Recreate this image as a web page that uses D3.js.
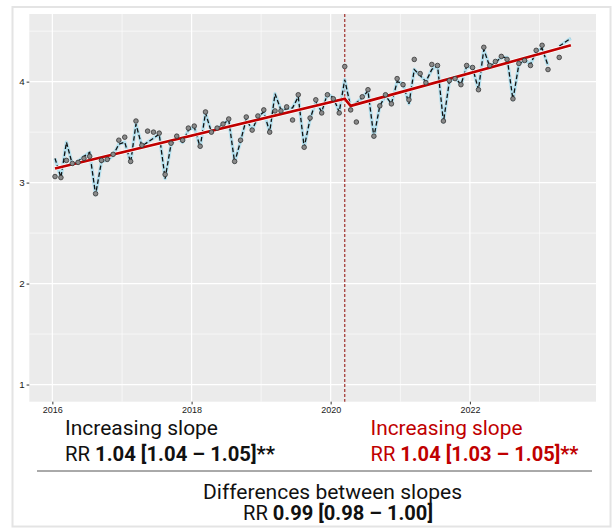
<!DOCTYPE html>
<html>
<head>
<meta charset="utf-8">
<script src="https://cdn.jsdelivr.net/npm/d3@7"></script>
<style>
  body { margin: 0; background: #fff; }
  svg { display: block; }
</style>
</head>
<body>
<svg id="chart"></svg>
<script>
// monthly observed values, Jan 2016 .. Jun 2023 (null = no point)
const observed = [
  3.06, 3.05, 3.22, 3.19, 3.20, 3.24, 3.26, 2.89, 3.22, 3.23, 3.28, 3.42,
  3.45, 3.21, 3.61, 3.37, 3.51, 3.50, 3.49, 3.08, 3.39, 3.46, 3.42, 3.54,
  3.56, 3.36, 3.70, 3.50, 3.54, 3.58, 3.63, 3.21, 3.42, 3.65, 3.52, 3.66,
  3.72, 3.50, 3.71, 3.71, 3.75, 3.62, 3.87, 3.35, 3.64, 3.82, 3.69, 3.87,
  3.83, 3.69, 4.15, 3.72, 3.60, 3.85, 3.92, 3.46, 3.76, 3.87, 3.78, 4.03,
  3.97, 3.82, 4.22, 4.08, 3.99, 4.17, 4.16, 3.61, 4.01, 4.03, 3.97, 4.16,
  4.14, 3.92, 4.34, 4.16, 4.20, 4.25, 4.22, 3.83, 4.18, 4.21, 4.16, 4.31,
  4.36, 4.12, null, 4.24, null, null
]

// model fit including seasonality (dashed line + light blue band)
const fitted = [
  3.24, 3.05, 3.40, 3.18, 3.21, 3.26, 3.30, 2.88, 3.21, 3.22, 3.27, 3.38,
  3.40, 3.20, 3.58, 3.36, 3.40, 3.44, 3.48, 3.04, 3.38, 3.44, 3.40, 3.52,
  3.55, 3.35, 3.69, 3.50, 3.53, 3.58, 3.62, 3.20, 3.41, 3.63, 3.52, 3.65,
  3.70, 3.50, 3.88, 3.72, 3.73, 3.74, 3.85, 3.35, 3.63, 3.80, 3.70, 3.88,
  3.84, 3.70, 4.02, 3.75, 3.79, 3.84, 3.91, 3.45, 3.76, 3.86, 3.78, 4.00,
  3.98, 3.78, 4.12, 4.06, 4.00, 4.12, 4.16, 3.60, 4.00, 4.04, 3.97, 4.15,
  4.14, 3.92, 4.32, 4.15, 4.19, 4.24, 4.24, 3.82, 4.17, 4.22, 4.17, 4.30,
  4.33, 4.16, null, 4.35, 4.39, 4.43
]

// segmented trend: [first month, last month] values before and after the break
const trendPre = [3.14, 3.83]
const trendPost = [3.76, 4.36]

const yTicks = [1, 2, 3, 4]
const yMinor = [1.5, 2.5, 3.5, 4.5]
const xMajorYears = [2016, 2018, 2020, 2022]
const xMinorYears = [2017, 2019, 2021, 2023]

const months = d3.timeMonth
  .range(new Date(2016, 0, 1), new Date(2023, 6, 1))
  .map(d => new Date(d.getFullYear(), d.getMonth(), 15))
const breakIndex = 50
const interventionDate = months[breakIndex]

const W = 613, H = 528
const panel = { left: 29.3, right: 596, top: 14, bottom: 401.7 }

const svg = d3.select("#chart").attr("width", W).attr("height", H)

svg.append("rect").attr("width", W).attr("height", H).attr("fill", "#fff")
svg.append("rect")
  .attr("x", 12.5).attr("y", 7).attr("width", 598).attr("height", 519.5)
  .attr("fill", "none").attr("stroke", "#e4e4e4").attr("stroke-width", 2)

const x = d3.scaleTime()
  .domain([new Date(2015, 8, 2), new Date(2023, 9, 25)])
  .range([panel.left, panel.right])
const y = d3.scaleLinear()
  .domain([0.83, 4.67])
  .range([panel.bottom, panel.top])

// panel background + grid
svg.append("rect")
  .attr("x", panel.left).attr("y", panel.top)
  .attr("width", panel.right - panel.left).attr("height", panel.bottom - panel.top)
  .attr("fill", "#ebebeb")

const grid = svg.append("g").attr("stroke", "#fff")
grid.selectAll(".ymin").data(yMinor).join("line")
  .attr("x1", panel.left).attr("x2", panel.right)
  .attr("y1", d => y(d)).attr("y2", d => y(d)).attr("stroke-width", 0.6)
grid.selectAll(".xmin").data(xMinorYears).join("line")
  .attr("y1", panel.top).attr("y2", panel.bottom)
  .attr("x1", d => x(new Date(d, 0, 1))).attr("x2", d => x(new Date(d, 0, 1)))
  .attr("stroke-width", 0.6)
grid.selectAll(".ymaj").data(yTicks).join("line")
  .attr("x1", panel.left).attr("x2", panel.right)
  .attr("y1", d => y(d)).attr("y2", d => y(d)).attr("stroke-width", 1.2)
grid.selectAll(".xmaj").data(xMajorYears).join("line")
  .attr("y1", panel.top).attr("y2", panel.bottom)
  .attr("x1", d => x(new Date(d, 0, 1))).attr("x2", d => x(new Date(d, 0, 1)))
  .attr("stroke-width", 1.2)

// axes
const yAxis = svg.append("g")
  .attr("transform", `translate(${panel.left},0)`)
  .call(d3.axisLeft(y).tickValues(yTicks).tickSize(2.7).tickPadding(2).tickFormat(d3.format("d")))
yAxis.select(".domain").remove()

const xAxis = svg.append("g")
  .attr("transform", `translate(0,${panel.bottom})`)
  .call(d3.axisBottom(x).tickValues(xMajorYears.map(d => new Date(d, 0, 1)))
    .tickSize(2.7).tickPadding(2.5).tickFormat(d3.timeFormat("%Y")))
xAxis.select(".domain").remove()

svg.selectAll(".tick line").attr("stroke", "#333")
yAxis.selectAll("text").attr("font-size", 9.8)
xAxis.selectAll("text").attr("font-size", 9)
svg.selectAll(".tick text")
  .attr("font-family", "Liberation Sans, Arial, sans-serif")
  .attr("fill", "#1a1a1a")

// intervention line
svg.append("line")
  .attr("x1", x(interventionDate)).attr("x2", x(interventionDate))
  .attr("y1", panel.top).attr("y2", panel.bottom)
  .attr("stroke", "#a0302d").attr("stroke-width", 1.2)
  .attr("stroke-dasharray", "3,2")

const fitData = months.map((d, i) => ({ d, v: fitted[i] }))
const fitLine = d3.line()
  .defined(p => p.v != null)
  .x(p => x(p.d)).y(p => y(p.v))

svg.append("path").datum(fitData)
  .attr("d", fitLine)
  .attr("fill", "none").attr("stroke", "#b4e0ee").attr("stroke-width", 3.4)
  .attr("stroke-linejoin", "round")

svg.append("path").datum(fitData)
  .attr("d", fitLine)
  .attr("fill", "none").attr("stroke", "#111").attr("stroke-width", 1.3)
  .attr("stroke-dasharray", "4.5,2.5")

// segmented trend
const last = months.length - 1
const trendData = [
  { d: months[0], v: trendPre[0] },
  { d: months[breakIndex], v: trendPre[1] },
  { d: months[breakIndex + 1], v: trendPost[0] },
  { d: months[last], v: trendPost[1] },
]
const trendLine = d3.line().x(p => x(p.d)).y(p => y(p.v))
svg.append("path").datum(trendData)
  .attr("d", trendLine)
  .attr("fill", "none").attr("stroke", "#fff").attr("stroke-width", 4)
svg.append("path").datum(trendData)
  .attr("d", trendLine)
  .attr("fill", "none").attr("stroke", "#c00000").attr("stroke-width", 2.7)

// observed points
svg.append("g").selectAll("circle")
  .data(months.map((d, i) => ({ d, v: observed[i] })).filter(p => p.v != null))
  .join("circle")
  .attr("cx", p => x(p.d)).attr("cy", p => y(p.v))
  .attr("r", 2.3)
  .attr("fill", "#8a8a8a").attr("stroke", "#333").attr("stroke-width", 0.8)

// annotation text
const font = "Roboto, 'Open Sans', sans-serif"
const addText = (parts, xPos, yPos, color, anchor, width) => {
  const t = svg.append("text")
    .attr("x", xPos).attr("y", yPos)
    .attr("font-family", font).attr("font-size", 19.5)
    .attr("fill", color).attr("text-anchor", anchor)
    .attr("textLength", width).attr("lengthAdjust", "spacingAndGlyphs")
  parts.forEach(p => {
    t.append("tspan").text(p.text).attr("font-weight", p.bold ? 700 : 400)
  })
}

addText([{ text: "Increasing slope" }], 65, 435, "#111", "start", 153)
addText([{ text: "RR " }, { text: "1.04 [1.04 – 1.05]**", bold: true }], 65, 461, "#111", "start", 210)
addText([{ text: "Increasing slope" }], 370.5, 435, "#c00000", "start", 152)
addText([{ text: "RR " }, { text: "1.04 [1.03 – 1.05]**", bold: true }], 370.5, 461, "#c00000", "start", 208)

svg.append("line")
  .attr("x1", 37).attr("x2", 592).attr("y1", 471).attr("y2", 471)
  .attr("stroke", "#555").attr("stroke-width", 1)

addText([{ text: "Differences between slopes" }], 332.5, 499, "#111", "middle", 259)
addText([{ text: "RR " }, { text: "0.99 [0.98 – 1.00]", bold: true }], 338, 520, "#111", "middle", 190)
</script>
</body>
</html>
